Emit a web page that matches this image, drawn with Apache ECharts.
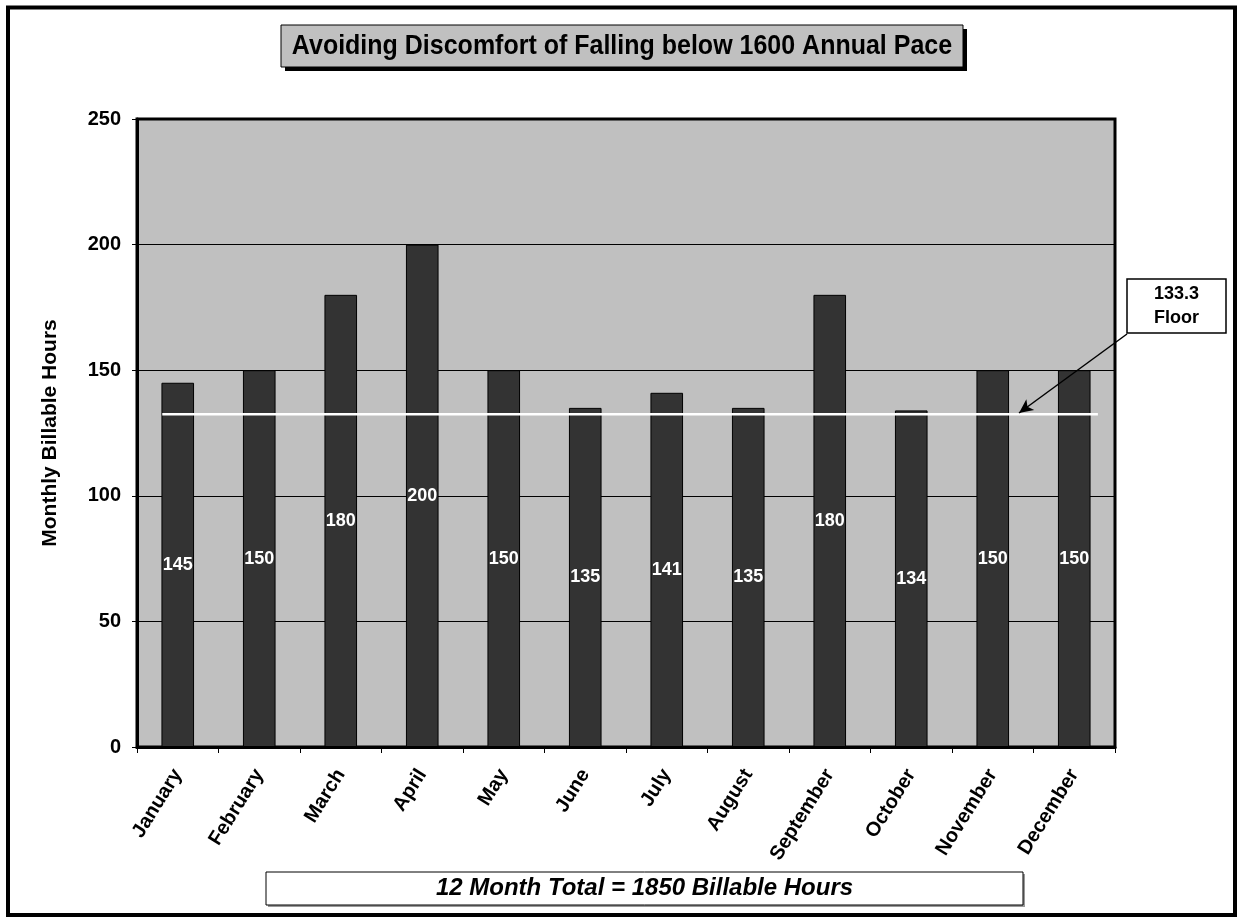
<!DOCTYPE html>
<html>
<head>
<meta charset="utf-8">
<script src="https://cdn.jsdelivr.net/npm/echarts@6/dist/echarts.min.js"></script>
<style>html,body{margin:0;padding:0;background:#fff;}#chart{width:1239px;height:918px;}</style>
</head>
<body>
<div id="chart"></div>
<script>
const TITLE = 'Avoiding Discomfort of Falling below 1600 Annual Pace';
const months = ['January','February','March','April','May','June','July','August','September','October','November','December'];
const hours = [145, 150, 180, 200, 150, 135, 141, 135, 180, 134, 150, 150];
const floorValue = 132.5;
const floorSpan = [-0.19, 11.29];
const floorLabel = '133.3\nFloor';
const yTicks = { min: 0, max: 250, interval: 50 };
const yAxisName = 'Monthly Billable Hours';
const footer = '12 Month Total = 1850 Billable Hours';

const FONT = '"Liberation Sans", Arial, sans-serif';
const chart = echarts.init(document.getElementById('chart'));
chart.setOption({
  animation: false,
  backgroundColor: '#ffffff',
  grid: {
    left: 137, right: 124, top: 119, bottom: 171,
    show: true, backgroundColor: '#c0c0c0', borderColor: '#000', borderWidth: 3
  },
  xAxis: [{
    type: 'category', data: months,
    axisLine: { lineStyle: { color: '#000', width: 3 } },
    axisTick: { show: true, length: 6, lineStyle: { color: '#000', width: 1 } },
    axisLabel: { rotate: 58, color: '#000', fontFamily: FONT, fontWeight: 'bold', fontSize: 20, margin: 24, interval: 0 }
  }, {
    type: 'value', min: -0.5, max: 11.5, show: false
  }],
  yAxis: [{
    type: 'value', min: yTicks.min, max: yTicks.max, interval: yTicks.interval,
    name: yAxisName, nameLocation: 'middle', nameGap: 76,
    nameTextStyle: { color: '#000', fontFamily: FONT, fontWeight: 'bold', fontSize: 21 },
    axisLine: { show: true, onZero: false, lineStyle: { color: '#000', width: 3 } },
    axisTick: { show: true, length: 5, lineStyle: { color: '#000', width: 1 } },
    axisLabel: { color: '#000', fontFamily: FONT, fontWeight: 'bold', fontSize: 20, margin: 16 },
    splitLine: { show: true, lineStyle: { color: '#000', width: 1 } }
  }],
  series: [{
    type: 'bar', data: hours, barWidth: '40%',
    itemStyle: { color: '#333333', borderColor: '#000', borderWidth: 1 },
    label: { show: true, position: 'inside', color: '#fff', fontFamily: FONT, fontWeight: 'bold', fontSize: 18 },
    z: 2
  }, {
    type: 'line', xAxisIndex: 1,
    data: [[floorSpan[0], floorValue], [floorSpan[1], floorValue]],
    showSymbol: false, symbol: 'none',
    lineStyle: { color: '#fff', width: 2.5 }, z: 3,
    markLine: {
      silent: true, symbol: ['none', 'arrow'], symbolSize: [10, 14],
      label: { show: false },
      lineStyle: { color: '#000', width: 1.5, type: 'solid' },
      data: [[{ x: 1127, y: 334 }, { x: 1019, y: 413 }]]
    }
  }],
  graphic: [
    { type: 'rect', shape: { x: 8, y: 7.5, width: 1227, height: 907.5 }, style: { fill: 'none', stroke: '#000', lineWidth: 4 }, z: 0 },
    { type: 'rect', shape: { x: 285, y: 29, width: 682, height: 42 }, style: { fill: '#000' }, z: 10 },
    { type: 'rect', shape: { x: 281, y: 25, width: 682, height: 42 }, style: { fill: '#c0c0c0', stroke: '#000', lineWidth: 1 }, z: 11 },
    { type: 'text', x: 622, y: 46, scaleY: 1.1, style: { text: TITLE, fill: '#000', font: 'bold 25px ' + FONT, textAlign: 'center', textVerticalAlign: 'middle' }, z: 12 },
    { type: 'rect', shape: { x: 1127, y: 279, width: 99, height: 54 }, style: { fill: '#fff', stroke: '#000', lineWidth: 1.5 }, z: 10 },
    { type: 'text', x: 1176.5, y: 306, style: { text: floorLabel, fill: '#000', font: 'bold 18px ' + FONT, textAlign: 'center', textVerticalAlign: 'middle', lineHeight: 24 }, z: 12 },
    { type: 'rect', shape: { x: 268, y: 874, width: 757, height: 33 }, style: { fill: '#999' }, z: 9 },
    { type: 'rect', shape: { x: 266, y: 872, width: 757, height: 33 }, style: { fill: '#fff', stroke: '#000', lineWidth: 1 }, z: 10 },
    { type: 'text', x: 644.5, y: 888.5, style: { text: footer, fill: '#000', font: 'italic bold 24px ' + FONT, textAlign: 'center', textVerticalAlign: 'middle' }, z: 12 }
  ]
});
</script>
</body>
</html>
